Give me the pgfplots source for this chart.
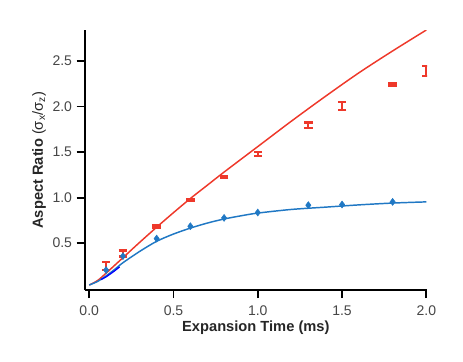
\documentclass[border=0pt]{standalone}
\usepackage{fontspec}
\setmainfont{Liberation Sans}
\usepackage{pgfplots}
\pgfplotsset{compat=1.18}
\definecolor{redc}{RGB}{238,56,42}
\definecolor{bluec}{RGB}{32,120,196}
\definecolor{txt}{RGB}{70,70,70}
\begin{document}
\begin{tikzpicture}
\begin{axis}[
scale only axis,width=256.7pt,height=195pt,
xmin=-0.027,xmax=2.004,ymin=-0.015,ymax=2.84,
axis x line*=bottom,axis y line*=left,
axis line style={line width=1.3pt,black},
tick align=outside,major tick length=6pt,
tick style={line width=1.4pt,black},
xtick={0,0.5,1.0,1.5,2.0},ytick={0.5,1.0,1.5,2.0,2.5},
/pgf/number format/assume math mode=true,
/pgf/number format/.cd,fixed,fixed zerofill,precision=1,/pgfplots/.cd,
ticklabel style={font=\fontsize{10.5}{12}\selectfont,text=txt},
xticklabel style={yshift=-2pt},
xlabel={\textbf{Expansion Time (ms)}},
ylabel={\textbf{Aspect Ratio} (σ\textsubscript{x}/σ\textsubscript{z})},
label style={font=\fontsize{11}{13}\selectfont,text=black!85},
xlabel style={yshift=3pt},
ylabel style={yshift=-2pt},
]
% fitted curves
\addplot[redc,line width=1.1pt,smooth] coordinates {(0,0.04)(0.05,0.09)(0.1,0.17)(0.15,0.255)(0.2,0.34)(0.3,0.51)(0.4,0.675)(0.5,0.835)(0.6,0.99)(0.7,1.135)(0.8,1.28)(1.0,1.56)(1.2,1.84)(1.4,2.11)(1.6,2.37)(1.8,2.61)(2.0,2.84)};
\addplot[bluec,line width=1.1pt,smooth] coordinates {(0,0.04)(0.05,0.08)(0.1,0.14)(0.15,0.21)(0.2,0.285)(0.3,0.41)(0.4,0.52)(0.5,0.60)(0.6,0.665)(0.7,0.72)(0.8,0.765)(0.9,0.80)(1.0,0.83)(1.2,0.87)(1.4,0.895)(1.6,0.92)(1.8,0.94)(2.0,0.953)};
\addplot[blue,line width=1pt,smooth] coordinates {(0.07,0.10)(0.1,0.13)(0.15,0.195)(0.18,0.24)};
% measured points
\addplot[bluec,only marks,mark=diamond*,mark size=2.6pt] coordinates {(0.1,0.204)(0.2,0.357)(0.4,0.55)(0.6,0.686)(0.8,0.777)(1.0,0.836)(1.3,0.917)(1.5,0.924)(1.8,0.953)};
\addplot[redc,only marks,mark=text,text mark={},
error bars/.cd,y dir=both,y explicit,
error bar style={line width=1.5pt},
error mark options={rotate=90,mark size=3.2pt,line width=1.8pt}]
coordinates {(0.1,0.251)+-(0,0.045)(0.2,0.387)+-(0,0.033)(0.4,0.686)+-(0,0.015)(0.6,0.971)+-(0,0.01)(0.8,1.227)+-(0,0.01)(1.0,1.479)+-(0,0.024)(1.3,1.794)+-(0,0.03)(1.5,2.006)+-(0,0.044)(1.8,2.243)+-(0,0.012)(2.0,2.39)+-(0,0.055)};
\end{axis}
\pgfresetboundingbox
\path (-63.5pt,-53.25pt) rectangle (283.7pt,217.5pt);
\end{tikzpicture}
\end{document}
